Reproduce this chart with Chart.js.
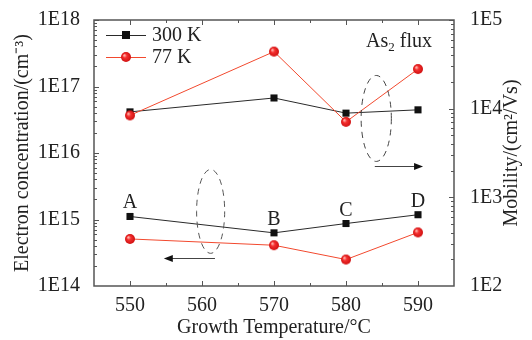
<!DOCTYPE html>
<html>
<head>
<meta charset="utf-8">
<script src="https://cdn.jsdelivr.net/npm/chart.js@4"></script>
<style>
  html, body { margin: 0; padding: 0; background: #fff; }
  #wrap { width: 532px; height: 340px; }
</style>
</head>
<body>
<div id="wrap"><canvas id="c" width="532" height="340"></canvas></div>
<script>
const temps = [550, 570, 580, 590];
const conc300 = [1.11e15, 6.3e14, 8.7e14, 1.18e15];
const conc77 = [5.1e14, 4.1e14, 2.5e14, 6.4e14];
const mob300 = [9.2e3, 1.32e4, 8.9e3, 9.7e3];
const mob77 = [8.4e3, 4.4e4, 7.1e3, 2.8e4];
const sampleLabels = ['A', 'B', 'C', 'D'];
const xTicks = [550, 560, 570, 580, 590];
const leftTicks = ['1E14', '1E15', '1E16', '1E17', '1E18'];
const rightTicks = ['1E2', '1E3', '1E4', '1E5'];
const seriesNames = ['300 K', '77 K'];

const FONT = '"Liberation Serif", "Times New Roman", serif';
const FS = 20;
const RED = '#f2492e';
const BLACK = '#2a2a2a';
const AXIS = '#555';

// red sphere marker
function sphere(r) {
  const c = document.createElement('canvas');
  c.width = c.height = r * 2 + 2;
  const g = c.getContext('2d');
  const cx = r + 1;
  const grad = g.createRadialGradient(cx - r * 0.35, cx - r * 0.35, r * 0.1, cx, cx, r);
  grad.addColorStop(0, '#ffb0a8');
  grad.addColorStop(0.35, '#f43030');
  grad.addColorStop(1, '#d01010');
  g.fillStyle = grad;
  g.beginPath();
  g.arc(cx, cx, r, 0, Math.PI * 2);
  g.fill();
  return c;
}
const redDot = sphere(5);

const pts = (ys) => temps.map((t, i) => ({ x: t, y: ys[i] }));

function decadeTicks(scale) {
  const lo = Math.log10(scale.min), hi = Math.log10(scale.max);
  const t = [];
  for (let e = lo; e <= hi; e++) t.push({ value: Math.pow(10, e), major: true });
  scale.ticks = t;
}

const decor = {
  id: 'decor',
  afterDatasetsDraw(chart) {
    const ctx = chart.ctx;
    const a = chart.chartArea;
    const x = chart.scales.x, yl = chart.scales.y, yr = chart.scales.y2;
    ctx.save();
    // frame
    ctx.strokeStyle = AXIS;
    ctx.lineWidth = 1.5;
    ctx.strokeRect(a.left, a.top, a.right - a.left, a.bottom - a.top);
    ctx.lineWidth = 1;
    // x ticks, bottom and top, inward
    for (let v = 550; v <= 590; v += 5) {
      const px = Math.round(x.getPixelForValue(v)) + 0.5;
      const len = v % 10 === 0 ? 5 : 3;
      ctx.beginPath();
      ctx.moveTo(px, a.bottom); ctx.lineTo(px, a.bottom - len);
      ctx.moveTo(px, a.top); ctx.lineTo(px, a.top + len);
      ctx.stroke();
    }
    // log ticks
    function logTicks(scale, xEdge, dir) {
      const lo = Math.log10(scale.min), hi = Math.log10(scale.max);
      for (let e = lo; e <= hi; e++) {
        for (let m = 1; m < 10; m++) {
          if (e === hi && m > 1) break;
          if (e === lo && m === 1) continue;
          const v = m * Math.pow(10, e);
          const py = Math.round(scale.getPixelForValue(v)) + 0.5;
          const len = m === 1 ? 5 : 3;
          ctx.beginPath();
          ctx.moveTo(xEdge, py); ctx.lineTo(xEdge + dir * len, py);
          ctx.stroke();
        }
      }
    }
    logTicks(yl, a.left, 1);
    logTicks(yr, a.right, -1);

    // right axis title, reads bottom to top
    ctx.save();
    ctx.translate(512, (a.top + a.bottom) / 2);
    ctx.rotate(-Math.PI / 2);
    ctx.fillStyle = '#222';
    ctx.font = FS + 'px ' + FONT;
    ctx.textAlign = 'center';
    ctx.textBaseline = 'middle';
    ctx.fillText('Mobility/(cm²/Vs)', 0, 0);
    ctx.restore();

    // legend
    const ds = chart.data.datasets;
    const legend = [ds[1], ds[0]];
    ctx.font = FS + 'px ' + FONT;
    ctx.textBaseline = 'middle';
    legend.forEach((d, i) => {
      const ly = 35 + i * 22;
      ctx.strokeStyle = d.borderColor;
      ctx.lineWidth = 1;
      ctx.beginPath(); ctx.moveTo(106, ly + 0.5); ctx.lineTo(146, ly + 0.5); ctx.stroke();
      if (d.pointStyle === 'rect') {
        ctx.fillStyle = d.pointBackgroundColor;
        ctx.fillRect(122, ly - 4, 8, 8);
      } else {
        ctx.drawImage(redDot, 126 - redDot.width / 2, ly - redDot.height / 2);
      }
      ctx.fillStyle = '#222';
      ctx.fillText(seriesNames[i], 152, ly + 1);
    });

    // As2 flux
    ctx.fillStyle = '#222';
    ctx.font = FS + 'px ' + FONT;
    ctx.textBaseline = 'alphabetic';
    ctx.fillText('As', 366, 47);
    const w1 = ctx.measureText('As').width;
    ctx.font = '13px ' + FONT;
    ctx.fillText('2', 366 + w1, 51);
    const w2 = ctx.measureText('2').width;
    ctx.font = FS + 'px ' + FONT;
    ctx.fillText(' flux', 366 + w1 + w2, 47);

    // sample labels above lower 300 K points
    const meta = chart.getDatasetMeta(3);
    ctx.textAlign = 'center';
    meta.data.forEach((p, i) => {
      ctx.fillText(sampleLabels[i], p.x, p.y - 8);
    });

    // dashed ellipses and arrows, placed in data units
    ctx.strokeStyle = '#555';
    ctx.lineWidth = 1;
    function ellipse(sy, cxv, rxv, topv, botv) {
      const cx = x.getPixelForValue(cxv);
      const rx = x.getPixelForValue(cxv + rxv) - cx;
      const t = sy.getPixelForValue(topv), b = sy.getPixelForValue(botv);
      ctx.setLineDash([6, 5]);
      ctx.beginPath();
      ctx.ellipse(cx, (t + b) / 2, rx, (b - t) / 2, 0, 0, Math.PI * 2);
      ctx.stroke();
      ctx.setLineDash([]);
    }
    function arrow(sy, x0v, x1v, yv) {
      const x0 = x.getPixelForValue(x0v), x1 = x.getPixelForValue(x1v);
      const py = Math.round(sy.getPixelForValue(yv)) + 0.5;
      const dir = Math.sign(x1 - x0);
      ctx.strokeStyle = '#444';
      ctx.fillStyle = '#111';
      ctx.beginPath(); ctx.moveTo(x0, py); ctx.lineTo(x1 - dir * 6, py); ctx.stroke();
      ctx.beginPath();
      ctx.moveTo(x1, py); ctx.lineTo(x1 - dir * 9, py - 3.5); ctx.lineTo(x1 - dir * 9, py + 3.5);
      ctx.closePath(); ctx.fill();
    }
    ellipse(yl, 561.2, 1.95, 5.66e15, 3.1e14);
    arrow(yl, 561.8, 554.7, 2.6e14);
    ellipse(yr, 584.2, 2.1, 2.37e4, 2540);
    arrow(yr, 584.0, 590.7, 2230);
    ctx.restore();
  }
};

new Chart(document.getElementById('c'), {
  type: 'line',
  data: {
    datasets: [
      { label: '77 K mobility', data: pts(mob77), yAxisID: 'y2', borderColor: RED, borderWidth: 1,
        pointStyle: redDot, pointRadius: 5 },
      { label: '300 K mobility', data: pts(mob300), yAxisID: 'y2', borderColor: BLACK, borderWidth: 1,
        pointStyle: 'rect', pointRadius: 5, pointBackgroundColor: '#111', pointBorderColor: '#111', pointBorderWidth: 0 },
      { label: '77 K concentration', data: pts(conc77), yAxisID: 'y', borderColor: RED, borderWidth: 1,
        pointStyle: redDot, pointRadius: 5 },
      { label: '300 K concentration', data: pts(conc300), yAxisID: 'y', borderColor: BLACK, borderWidth: 1,
        pointStyle: 'rect', pointRadius: 5, pointBackgroundColor: '#111', pointBorderColor: '#111', pointBorderWidth: 0 }
    ]
  },
  options: {
    responsive: false,
    animation: false,
    layout: { padding: { top: 17, left: 0, right: 0, bottom: 0 } },
    plugins: { legend: { display: false }, tooltip: { enabled: false } },
    scales: {
      x: {
        type: 'linear', min: 545, max: 595,
        grid: { display: false }, border: { display: false },
        afterBuildTicks: (s) => { s.ticks = xTicks.map(v => ({ value: v })); },
        afterFit: (s) => { s.height = 54; },
        ticks: { color: '#222', font: { family: FONT, size: FS }, padding: 0, maxRotation: 0 },
        title: { display: true, text: 'Growth Temperature/°C', color: '#222',
          font: { family: FONT, size: FS }, padding: { top: 5, bottom: 0 } }
      },
      y: {
        type: 'logarithmic', position: 'left', min: 1e14, max: 1e18,
        grid: { display: false }, border: { display: false },
        afterBuildTicks: decadeTicks,
        afterFit: (s) => { s.width = 94; },
        ticks: { color: '#222', font: { family: FONT, size: FS }, padding: 6,
          callback: (v, i) => leftTicks[i] },
        title: { display: true, text: 'Electron concentration/(cm⁻³)', color: '#222',
          font: { family: FONT, size: FS }, padding: { top: 11, bottom: 0 } }
      },
      y2: {
        type: 'logarithmic', position: 'right', min: 1e2, max: 1e5,
        grid: { display: false }, border: { display: false },
        afterBuildTicks: decadeTicks,
        afterFit: (s) => { s.width = 78; },
        ticks: { color: '#222', font: { family: FONT, size: FS }, padding: 8,
          callback: (v, i) => rightTicks[i] }
      }
    }
  },
  plugins: [decor]
});
</script>
</body>
</html>
